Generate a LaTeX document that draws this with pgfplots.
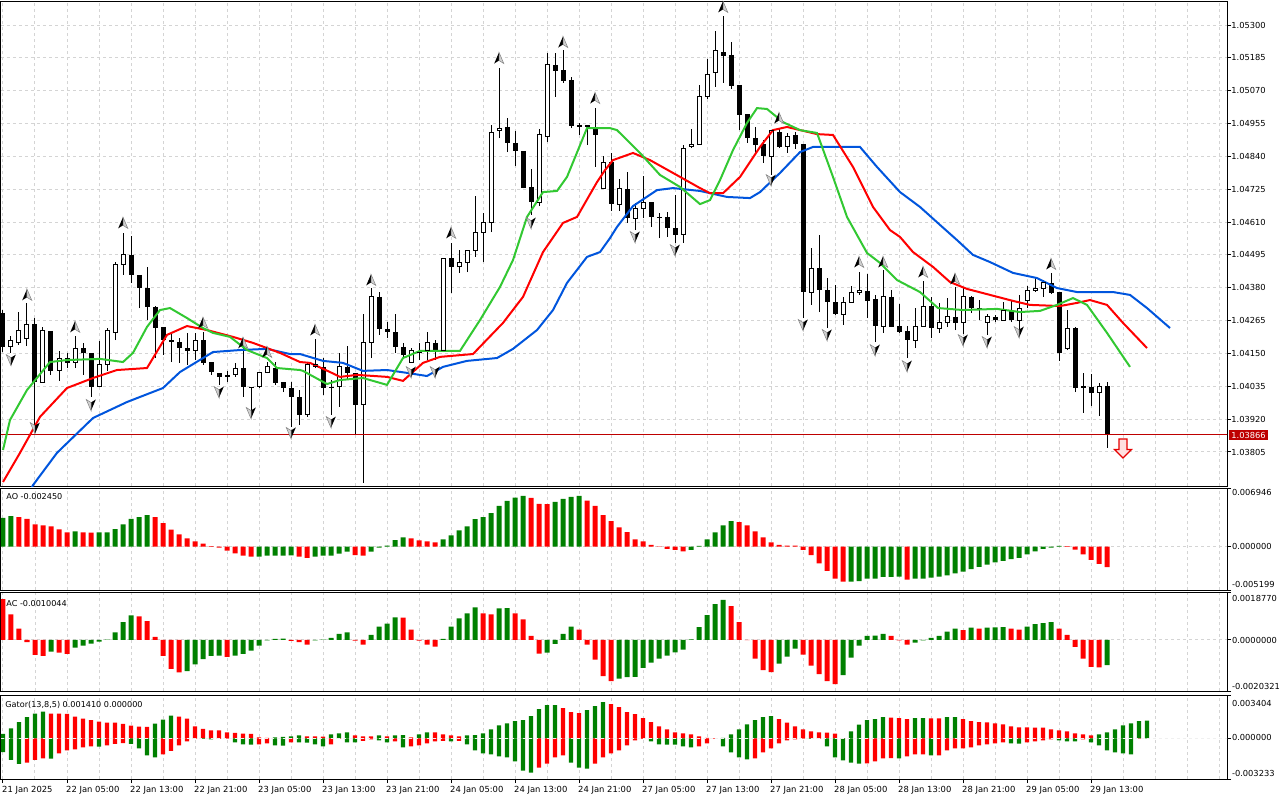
\documentclass[border=0pt]{standalone}
\usepackage{fontspec}
\setmainfont{DejaVu Sans}
\usepackage{pgfplots}
\pgfplotsset{compat=1.18}
\definecolor{gridc}{RGB}{212,212,212}
\definecolor{lipsc}{RGB}{50,200,50}
\definecolor{teethc}{RGB}{255,0,0}
\definecolor{jawc}{RGB}{0,85,221}
\definecolor{upc}{RGB}{0,128,0}
\definecolor{dnc}{RGB}{255,0,0}
\definecolor{bidc}{RGB}{190,0,0}
\newcommand\fR{\fontsize{4.15pt}{5pt}\selectfont}
\newcommand\fL{\fontsize{4.05pt}{5pt}\selectfont}
\newcommand\fT{\fontsize{4.2pt}{5pt}\selectfont}
\pgfdeclareplotmark{fup}{%
  \pgfpathmoveto{\pgfqpoint{0pt}{2.9pt}}%
  \pgfpathlineto{\pgfqpoint{-2.4pt}{-2.7pt}}%
  \pgfpathlineto{\pgfqpoint{0pt}{-1.2pt}}%
  \pgfpathclose
  \pgfsetfillcolor{black}\pgfusepathqfill
  \pgfpathmoveto{\pgfqpoint{0pt}{2.9pt}}%
  \pgfpathlineto{\pgfqpoint{2.4pt}{-2.7pt}}%
  \pgfpathlineto{\pgfqpoint{0pt}{-1.2pt}}%
  \pgfpathclose
  \pgfsetfillcolor{black!18}\pgfsetstrokecolor{black!50}\pgfsetlinewidth{0.25pt}\pgfusepathqfillstroke
}
\pgfdeclareplotmark{fdown}{%
  \pgfpathmoveto{\pgfqpoint{0pt}{-2.9pt}}%
  \pgfpathlineto{\pgfqpoint{2.4pt}{2.7pt}}%
  \pgfpathlineto{\pgfqpoint{0pt}{1.2pt}}%
  \pgfpathclose
  \pgfsetfillcolor{black}\pgfusepathqfill
  \pgfpathmoveto{\pgfqpoint{0pt}{-2.9pt}}%
  \pgfpathlineto{\pgfqpoint{-2.4pt}{2.7pt}}%
  \pgfpathlineto{\pgfqpoint{0pt}{1.2pt}}%
  \pgfpathclose
  \pgfsetfillcolor{black!18}\pgfsetstrokecolor{black!50}\pgfsetlinewidth{0.25pt}\pgfusepathqfillstroke
}
\pgfdeclareplotmark{sellarrow}{%
  \pgfpathmoveto{\pgfqpoint{-2pt}{4.5pt}}%
  \pgfpathlineto{\pgfqpoint{2pt}{4.5pt}}%
  \pgfpathlineto{\pgfqpoint{2pt}{-0.8pt}}%
  \pgfpathlineto{\pgfqpoint{4.2pt}{-0.8pt}}%
  \pgfpathlineto{\pgfqpoint{0pt}{-5pt}}%
  \pgfpathlineto{\pgfqpoint{-4.2pt}{-0.8pt}}%
  \pgfpathlineto{\pgfqpoint{-2pt}{-0.8pt}}%
  \pgfpathclose
  \pgfsetfillcolor{red!12}\pgfsetstrokecolor{red!90!black}\pgfsetlinewidth{0.6pt}\pgfusepathqfillstroke
}
\pgfplotsset{
  mtaxis/.style={scale only axis, width=613pt, xmin=-0.25, xmax=153,
    axis line style={line width=0.5pt, black},
    grid style={gridc, line width=0.5pt, dash pattern=on 1.5pt off 1.5pt},
    xtick={0,4,...,152}, scaled ticks=false, clip=true,
    tick style={line width=0.5pt, black}, tick align=outside, major tick length=2pt,
    ytick pos=right, yticklabel pos=right},
}
\begin{document}
\begin{tikzpicture}
\useasboundingbox (0,0) rectangle (640pt,-400pt);
% ================= MAIN PRICE PANEL =================
\begin{axis}[mtaxis, at={(0.5pt,-243pt)}, anchor=south west, height=242.5pt,
  ymin=1.036859, ymax=1.053840, xticklabels={}, xtick style={draw=none},
  ytick={1.03805,1.03920,1.04035,1.04150,1.04265,1.04380,1.04495,1.04610,1.04725,1.04840,1.04955,1.05070,1.05185,1.05300},
  yticklabels={1.03805,1.03920,1.04035,1.04150,1.04265,1.04380,1.04495,1.04610,1.04725,1.04840,1.04955,1.05070,1.05185,1.05300},
  yticklabel style={font=\fR, inner sep=0pt, anchor=west},
  grid=major, unbounded coords=jump]
% wicks
\addplot[black, line width=0.5pt] coordinates {
(0,1.04155)(0,1.04302)(0,nan)(1,1.04152)(1,1.04211)(1,nan)(2,1.04180)(2,1.04295)(2,nan)(3,1.04176)(3,1.04327)(3,nan)
(4,1.03900)(4,1.04274)(4,nan)(5,1.04048)(5,1.04243)(5,nan)(6,1.04075)(6,1.04230)(6,nan)(7,1.04054)(7,1.04159)(7,nan)
(8,1.04099)(8,1.04152)(8,nan)(9,1.04099)(9,1.04211)(9,nan)(10,1.04075)(10,1.04187)(10,nan)(11,1.03998)(11,1.04153)(11,nan)
(12,1.04031)(12,1.04194)(12,nan)(13,1.04089)(13,1.04239)(13,nan)(14,1.04197)(14,1.04470)(14,nan)(15,1.04425)(15,1.04572)(15,nan)
(16,1.04397)(16,1.04561)(16,nan)(17,1.04309)(17,1.04426)(17,nan)(18,1.04267)(18,1.04453)(18,nan)(19,1.04134)(19,1.04316)(19,nan)
(20,1.04145)(20,1.04244)(20,nan)(21,1.04120)(21,1.04222)(21,nan)(22,1.04117)(22,1.04204)(22,nan)(23,1.04110)(23,1.04222)(23,nan)
(24,1.04127)(24,1.04222)(24,nan)(25,1.04110)(25,1.04225)(25,nan)(26,1.04075)(26,1.04121)(26,nan)(27,1.04040)(27,1.04083)(27,nan)
(28,1.04050)(28,1.04089)(28,nan)(29,1.04068)(29,1.04117)(29,nan)(30,1.03998)(30,1.04197)(30,nan)(31,1.03935)(31,1.04034)(31,nan)
(32,1.04029)(32,1.04086)(32,nan)(33,1.04081)(33,1.04120)(33,nan)(34,1.04040)(34,1.04120)(34,nan)(35,1.04015)(35,1.04051)(35,nan)
(36,1.03893)(36,1.04050)(36,nan)(37,1.03900)(37,1.04022)(37,nan)(38,1.03928)(38,1.04117)(38,nan)(39,1.04099)(39,1.04201)(39,nan)
(40,1.04005)(40,1.04134)(40,nan)(41,1.03935)(41,1.04057)(41,nan)(42,1.03963)(42,1.04152)(42,nan)(43,1.04057)(43,1.04176)(43,nan)
(44,1.03865)(44,1.04083)(44,nan)(45,1.03697)(45,1.04288)(45,nan)(46,1.04134)(46,1.04379)(46,nan)(47,1.04215)(47,1.04365)(47,nan)
(48,1.04204)(48,1.04260)(48,nan)(49,1.04152)(49,1.04288)(49,nan)(50,1.04134)(50,1.04187)(50,nan)(51,1.04117)(51,1.04169)(51,nan)
(52,1.04127)(52,1.04187)(52,nan)(53,1.04127)(53,1.04225)(53,nan)(54,1.04127)(54,1.04197)(54,nan)(55,1.04155)(55,1.04485)(55,nan)
(56,1.04362)(56,1.04537)(56,nan)(57,1.04432)(57,1.04512)(57,nan)(58,1.04435)(58,1.04513)(58,nan)(59,1.04488)(59,1.04701)(59,nan)
(60,1.04470)(60,1.04642)(60,nan)(61,1.04575)(61,1.04950)(61,nan)(62,1.04904)(62,1.05149)(62,nan)(63,1.04855)(63,1.04974)(63,nan)
(64,1.04806)(64,1.04929)(64,nan)(65,1.04728)(65,1.04860)(65,nan)(66,1.04635)(66,1.04796)(66,nan)(67,1.04666)(67,1.04936)(67,nan)
(68,1.04890)(68,1.05202)(68,nan)(69,1.05048)(69,1.05202)(69,nan)(70,1.05097)(70,1.05212)(70,nan)(71,1.04939)(71,1.05118)(71,nan)
(72,1.04915)(72,1.04957)(72,nan)(73,1.04880)(73,1.04951)(73,nan)(74,1.04803)(74,1.05009)(74,nan)(75,1.04728)(75,1.04841)(75,nan)
(76,1.04649)(76,1.04852)(76,nan)(77,1.04649)(77,1.04761)(77,nan)(78,1.04607)(78,1.04785)(78,nan)(79,1.04582)(79,1.04677)(79,nan)
(80,1.04624)(80,1.04771)(80,nan)(81,1.04593)(81,1.04681)(81,nan)(82,1.04554)(82,1.04642)(82,nan)(83,1.04558)(83,1.04645)(83,nan)
(84,1.04537)(84,1.04705)(84,nan)(85,1.04537)(85,1.04880)(85,nan)(86,1.04869)(86,1.04936)(86,nan)(87,1.04880)(87,1.05090)(87,nan)
(88,1.05041)(88,1.05181)(88,nan)(89,1.05083)(89,1.05279)(89,nan)(90,1.05097)(90,1.05331)(90,nan)(91,1.05076)(91,1.05240)(91,nan)
(92,1.04932)(92,1.05091)(92,nan)(93,1.04887)(93,1.04989)(93,nan)(94,1.04852)(94,1.04943)(94,nan)(95,1.04817)(95,1.04897)(95,nan)
(96,1.04775)(96,1.04932)(96,nan)(97,1.04869)(97,1.04939)(97,nan)(98,1.04852)(98,1.04922)(98,nan)(99,1.04866)(99,1.04925)(99,nan)
(100,1.04274)(100,1.04884)(100,nan)(101,1.04320)(101,1.04519)(101,nan)(102,1.04295)(102,1.04565)(102,nan)(103,1.04239)(103,1.04414)(103,nan)
(104,1.04285)(104,1.04390)(104,nan)(105,1.04250)(105,1.04348)(105,nan)(106,1.04327)(106,1.04386)(106,nan)(107,1.04355)(107,1.04435)(107,nan)
(108,1.04274)(108,1.04428)(108,nan)(109,1.04190)(109,1.04355)(109,nan)(110,1.04222)(110,1.04442)(110,nan)(111,1.04242)(111,1.04372)(111,nan)
(112,1.04222)(112,1.04323)(112,nan)(113,1.04134)(113,1.04246)(113,nan)(114,1.04169)(114,1.04309)(114,nan)(115,1.04243)(115,1.04404)(115,nan)
(116,1.04204)(116,1.04348)(116,nan)(117,1.04222)(117,1.04327)(117,nan)(118,1.04243)(118,1.04344)(118,nan)(119,1.04232)(119,1.04383)(119,nan)
(120,1.04218)(120,1.04379)(120,nan)(121,1.04292)(121,1.04351)(121,nan)(122,1.04267)(122,1.04337)(122,nan)(123,1.04215)(123,1.04288)(123,nan)
(124,1.04260)(124,1.04285)(124,nan)(125,1.04264)(125,1.04330)(125,nan)(126,1.04260)(126,1.04334)(126,nan)(127,1.04215)(127,1.04355)(127,nan)
(128,1.04309)(128,1.04386)(128,nan)(129,1.04365)(129,1.04418)(129,nan)(130,1.04348)(130,1.04407)(130,nan)(131,1.04358)(131,1.04432)(131,nan)
(132,1.04124)(132,1.04366)(132,nan)(133,1.04162)(133,1.04302)(133,nan)(134,1.04015)(134,1.04243)(134,nan)(135,1.03942)(135,1.04082)(135,nan)
(136,1.03966)(136,1.04078)(136,nan)(137,1.03931)(137,1.04047)(137,nan)(138,1.03819)(138,1.04050)(138,nan)
};
% bearish bodies (filled black)
\addplot[black, line width=2.5pt] coordinates {
(0,1.04292)(0,1.04173)(0,nan)(4,1.04253)(4,1.04050)(4,nan)(6,1.04229)(6,1.04089)(6,nan)(8,1.04134)(8,1.04117)(8,nan)
(10,1.04169)(10,1.04152)(10,nan)(11,1.04152)(11,1.04033)(11,nan)(16,1.04495)(16,1.04425)(16,nan)(17,1.04425)(17,1.04379)(17,nan)
(18,1.04379)(18,1.04313)(18,nan)(19,1.04313)(19,1.04239)(19,nan)(20,1.04243)(20,1.04197)(20,nan)(21,1.04197)(21,1.04190)(21,nan)
(22,1.04190)(22,1.04169)(22,nan)(23,1.04169)(23,1.04159)(23,nan)(25,1.04197)(25,1.04117)(25,nan)(26,1.04120)(26,1.04085)(26,nan)
(27,1.04082)(27,1.04068)(27,nan)(28,1.04075)(28,1.04068)(28,nan)(30,1.04099)(30,1.04033)(30,nan)(31,1.04033)(31,1.04029)(31,nan)
(34,1.04099)(34,1.04047)(34,nan)(35,1.04050)(35,1.04029)(35,nan)(36,1.04029)(36,1.03998)(36,nan)(37,1.03998)(37,1.03935)(37,nan)
(40,1.04103)(40,1.04029)(40,nan)(41,1.04033)(41,1.04029)(41,nan)(43,1.04103)(43,1.04082)(43,nan)(44,1.04082)(44,1.03970)(44,nan)
(47,1.04348)(47,1.04236)(47,nan)(48,1.04236)(48,1.04225)(48,nan)(49,1.04225)(49,1.04173)(49,nan)(50,1.04173)(50,1.04145)(50,nan)
(54,1.04187)(54,1.04159)(54,nan)(56,1.04484)(56,1.04453)(56,nan)(63,1.04943)(63,1.04887)(63,nan)(64,1.04887)(64,1.04859)(64,nan)
(65,1.04859)(65,1.04729)(65,nan)(66,1.04733)(66,1.04680)(66,nan)(69,1.05160)(69,1.05139)(69,nan)(70,1.05142)(70,1.05104)(70,nan)
(71,1.05107)(71,1.04946)(71,nan)(72,1.04950)(72,1.04943)(72,nan)(73,1.04950)(73,1.04943)(73,nan)(74,1.04943)(74,1.04915)(74,nan)
(76,1.04820)(76,1.04673)(76,nan)(78,1.04726)(78,1.04624)(78,nan)(81,1.04680)(81,1.04628)(81,nan)(82,1.04628)(82,1.04624)(82,nan)
(83,1.04628)(83,1.04589)(83,nan)(84,1.04589)(84,1.04565)(84,nan)(90,1.05205)(90,1.05191)(90,nan)(91,1.05195)(91,1.05086)(91,nan)
(92,1.05090)(92,1.04985)(92,nan)(93,1.04988)(93,1.04904)(93,nan)(94,1.04904)(94,1.04880)(94,nan)(95,1.04883)(95,1.04841)(95,nan)
(97,1.04925)(97,1.04873)(97,nan)(99,1.04915)(99,1.04883)(99,nan)(100,1.04883)(100,1.04365)(100,nan)(102,1.04449)(102,1.04372)(102,nan)
(103,1.04372)(103,1.04330)(103,nan)(104,1.04330)(104,1.04288)(104,nan)(108,1.04369)(108,1.04334)(108,nan)(109,1.04341)(109,1.04246)(109,nan)
(111,1.04348)(111,1.04243)(111,nan)(112,1.04246)(112,1.04225)(112,nan)(113,1.04229)(113,1.04197)(113,nan)(116,1.04316)(116,1.04239)(116,nan)
(119,1.04278)(119,1.04257)(119,nan)(121,1.04348)(121,1.04309)(121,nan)(122,1.04309)(122,1.04302)(122,nan)(124,1.04278)(124,1.04267)(124,nan)
(126,1.04299)(126,1.04267)(126,nan)(131,1.04397)(131,1.04362)(131,nan)(132,1.04365)(132,1.04152)(132,nan)(134,1.04239)(134,1.04029)(134,nan)
(135,1.04036)(135,1.04029)(135,nan)(136,1.04033)(136,1.04012)(136,nan)(138,1.04036)(138,1.03866)(138,nan)
};
% bullish bodies: black outline
\addplot[black, line width=2.5pt] coordinates {
(1,1.04173)(1,1.04197)(1,nan)(2,1.04190)(2,1.04229)(2,nan)(3,1.04204)(3,1.04253)(3,nan)(5,1.04050)(5,1.04229)(5,nan)
(7,1.04089)(7,1.04134)(7,nan)(9,1.04117)(9,1.04169)(9,nan)(12,1.04033)(12,1.04110)(12,nan)(13,1.04113)(13,1.04229)(13,nan)
(14,1.04225)(14,1.04463)(14,nan)(15,1.04463)(15,1.04495)(15,nan)(24,1.04159)(24,1.04197)(24,nan)(29,1.04075)(29,1.04099)(29,nan)
(32,1.04033)(32,1.04085)(32,nan)(33,1.04082)(33,1.04106)(33,nan)(38,1.03935)(38,1.04110)(38,nan)(39,1.04106)(39,1.04113)(39,nan)
(42,1.04033)(42,1.04103)(42,nan)(45,1.03970)(45,1.04187)(45,nan)(46,1.04190)(46,1.04348)(46,nan)(51,1.04120)(51,1.04159)(51,nan)
(52,1.04152)(52,1.04155)(52,nan)(53,1.04159)(53,1.04187)(53,nan)(55,1.04159)(55,1.04484)(55,nan)(57,1.04453)(57,1.04470)(57,nan)
(58,1.04470)(58,1.04512)(58,nan)(59,1.04512)(59,1.04572)(59,nan)(60,1.04572)(60,1.04607)(60,nan)(61,1.04607)(61,1.04925)(61,nan)
(62,1.04929)(62,1.04939)(62,nan)(67,1.04680)(67,1.04915)(67,nan)(68,1.04911)(68,1.05160)(68,nan)(75,1.04729)(75,1.04820)(75,nan)
(77,1.04673)(77,1.04726)(77,nan)(79,1.04624)(79,1.04656)(79,nan)(80,1.04656)(80,1.04680)(80,nan)(85,1.04565)(85,1.04869)(85,nan)
(86,1.04873)(86,1.04883)(86,nan)(87,1.04883)(87,1.05048)(87,nan)(88,1.05048)(88,1.05128)(88,nan)(89,1.05132)(89,1.05209)(89,nan)
(96,1.04841)(96,1.04929)(96,nan)(98,1.04873)(98,1.04911)(98,nan)(101,1.04365)(101,1.04449)(101,nan)(105,1.04288)(105,1.04330)(105,nan)
(106,1.04330)(106,1.04362)(106,nan)(107,1.04362)(107,1.04369)(107,nan)(110,1.04246)(110,1.04348)(110,nan)(114,1.04197)(114,1.04246)(114,nan)
(115,1.04246)(115,1.04316)(115,nan)(117,1.04239)(117,1.04257)(117,nan)(118,1.04257)(118,1.04278)(118,nan)(120,1.04257)(120,1.04348)(120,nan)
(123,1.04257)(123,1.04281)(123,nan)(125,1.04267)(125,1.04299)(125,nan)(127,1.04264)(127,1.04309)(127,nan)(128,1.04334)(128,1.04369)(128,nan)
(129,1.04369)(129,1.04379)(129,nan)(130,1.04379)(130,1.04397)(130,nan)(133,1.04166)(133,1.04239)(133,nan)(137,1.04012)(137,1.04036)(137,nan)
};
% bullish bodies: white fill with black top/bottom edges
\addplot[white, line width=1.5pt, mark=-, mark size=1.25pt, mark options={black, line width=0.5pt, solid}] coordinates {
(1,1.04173)(1,1.04197)(1,nan)(2,1.04190)(2,1.04229)(2,nan)(3,1.04204)(3,1.04253)(3,nan)(5,1.04050)(5,1.04229)(5,nan)
(7,1.04089)(7,1.04134)(7,nan)(9,1.04117)(9,1.04169)(9,nan)(12,1.04033)(12,1.04110)(12,nan)(13,1.04113)(13,1.04229)(13,nan)
(14,1.04225)(14,1.04463)(14,nan)(15,1.04463)(15,1.04495)(15,nan)(24,1.04159)(24,1.04197)(24,nan)(29,1.04075)(29,1.04099)(29,nan)
(32,1.04033)(32,1.04085)(32,nan)(33,1.04082)(33,1.04106)(33,nan)(38,1.03935)(38,1.04110)(38,nan)(39,1.04106)(39,1.04113)(39,nan)
(42,1.04033)(42,1.04103)(42,nan)(45,1.03970)(45,1.04187)(45,nan)(46,1.04190)(46,1.04348)(46,nan)(51,1.04120)(51,1.04159)(51,nan)
(52,1.04152)(52,1.04155)(52,nan)(53,1.04159)(53,1.04187)(53,nan)(55,1.04159)(55,1.04484)(55,nan)(57,1.04453)(57,1.04470)(57,nan)
(58,1.04470)(58,1.04512)(58,nan)(59,1.04512)(59,1.04572)(59,nan)(60,1.04572)(60,1.04607)(60,nan)(61,1.04607)(61,1.04925)(61,nan)
(62,1.04929)(62,1.04939)(62,nan)(67,1.04680)(67,1.04915)(67,nan)(68,1.04911)(68,1.05160)(68,nan)(75,1.04729)(75,1.04820)(75,nan)
(77,1.04673)(77,1.04726)(77,nan)(79,1.04624)(79,1.04656)(79,nan)(80,1.04656)(80,1.04680)(80,nan)(85,1.04565)(85,1.04869)(85,nan)
(86,1.04873)(86,1.04883)(86,nan)(87,1.04883)(87,1.05048)(87,nan)(88,1.05048)(88,1.05128)(88,nan)(89,1.05132)(89,1.05209)(89,nan)
(96,1.04841)(96,1.04929)(96,nan)(98,1.04873)(98,1.04911)(98,nan)(101,1.04365)(101,1.04449)(101,nan)(105,1.04288)(105,1.04330)(105,nan)
(106,1.04330)(106,1.04362)(106,nan)(107,1.04362)(107,1.04369)(107,nan)(110,1.04246)(110,1.04348)(110,nan)(114,1.04197)(114,1.04246)(114,nan)
(115,1.04246)(115,1.04316)(115,nan)(117,1.04239)(117,1.04257)(117,nan)(118,1.04257)(118,1.04278)(118,nan)(120,1.04257)(120,1.04348)(120,nan)
(123,1.04257)(123,1.04281)(123,nan)(125,1.04267)(125,1.04299)(125,nan)(127,1.04264)(127,1.04309)(127,nan)(128,1.04334)(128,1.04369)(128,nan)
(129,1.04369)(129,1.04379)(129,nan)(130,1.04379)(130,1.04397)(130,nan)(133,1.04166)(133,1.04239)(133,nan)(137,1.04012)(137,1.04036)(137,nan)
};
% bid line
\addplot[bidc, line width=0.5pt] coordinates {(-1,1.03866)(154,1.03866)};
% Alligator jaw (blue)
\addplot[jawc, line width=1pt] coordinates {
(2.125,1.03602)(3.75,1.03689)(6.75,1.03802)(11.25,1.03924)(15.5,1.03980)(20,1.04029)(22.125,1.04085)(26.25,1.04155)(29.625,1.04162)(33,1.04166)(35.875,1.04148)(37.125,1.04148)(40,1.04124)(42.5,1.04117)(45,1.04089)(48,1.04092)(50.5,1.04082)(53,1.04071)(55,1.04103)(58,1.04124)(61.75,1.04134)(63.75,1.04166)(66.75,1.04232)(68.75,1.04302)(70.5,1.04397)(73,1.04488)(74.625,1.04505)(75.875,1.04554)(76.75,1.04593)(78.75,1.04666)(81.75,1.04722)(83.75,1.04729)(87.125,1.04719)(90.5,1.04698)(93.375,1.04694)(94.625,1.04715)(97.125,1.04782)(99.625,1.04855)(101.25,1.04873)(107.125,1.04873)(109.25,1.04803)(112.125,1.04715)(114.625,1.04663)(117.125,1.04600)(119.25,1.04547)(121.25,1.04495)(123.375,1.04470)(126.25,1.04432)(129.25,1.04414)(131.75,1.04379)(134.25,1.04365)(138.75,1.04365)(140.875,1.04355)(143,1.04309)(145.875,1.04239)
};
% Alligator teeth (red)
\addplot[teethc, line width=1pt] coordinates {
(0,1.03700)(2.125,1.03802)(4.625,1.03928)(8,1.04029)(11.25,1.04064)(14.25,1.04092)(18,1.04099)(20.5,1.04215)(23,1.04246)(25.5,1.04232)(28.75,1.04208)(31.25,1.04187)(34.625,1.04152)(37.125,1.04120)(38.375,1.04117)(40.875,1.04085)(42.125,1.04068)(44.25,1.04075)(48,1.04068)(50,1.04054)(52.5,1.04117)(54.625,1.04138)(58.75,1.04148)(62.5,1.04257)(65,1.04348)(67.5,1.04505)(70,1.04607)(71.75,1.04628)(74.25,1.04750)(75.25,1.04792)(76.25,1.04827)(78.75,1.04852)(80.875,1.04827)(83.75,1.04782)(87.125,1.04729)(88.375,1.04711)(90,1.04711)(92.125,1.04768)(94.625,1.04873)(96.25,1.04932)(98,1.04943)(101.75,1.04918)(103.75,1.04915)(106.25,1.04803)(108.75,1.04663)(110.875,1.04582)(112.125,1.04558)(113.75,1.04505)(116.25,1.04453)(118.375,1.04400)(120.5,1.04376)(123.375,1.04355)(126.25,1.04334)(128.375,1.04320)(132.125,1.04316)(134.25,1.04327)(135.875,1.04337)(138,1.04320)(140,1.04257)(143,1.04169)
};
% Alligator lips (green)
\addplot[lipsc, line width=1pt] coordinates {
(0,1.03812)(0.875,1.03917)(3,1.04022)(5.875,1.04120)(8,1.04127)(12.125,1.04131)(15,1.04120)(16.25,1.04152)(18,1.04243)(19.625,1.04302)(20.875,1.04309)(23,1.04274)(25,1.04239)(26.25,1.04222)(28.375,1.04208)(30.5,1.04162)(33,1.04134)(34.25,1.04099)(37.125,1.04092)(37.5,1.04089)(40.5,1.04043)(42.125,1.04057)(45,1.04064)(48,1.04040)(50,1.04134)(52.125,1.04159)(57.125,1.04159)(59.625,1.04267)(62.125,1.04383)(63.75,1.04477)(65.5,1.04628)(67.5,1.04715)(69.25,1.04719)(70.5,1.04768)(73,1.04939)(75.875,1.04939)(76.75,1.04932)(79.625,1.04852)(82.125,1.04775)(84.625,1.04733)(87.125,1.04673)(88.375,1.04687)(89.625,1.04757)(91.25,1.04862)(93,1.04957)(94.25,1.05009)(95.5,1.05006)(97.5,1.04960)(99.625,1.04932)(101.75,1.04922)(103.75,1.04768)(105.5,1.04628)(108,1.04502)(109.625,1.04467)(111.75,1.04407)(114.625,1.04365)(116.875,1.04309)(120,1.04302)(124.25,1.04306)(127.125,1.04295)(129.625,1.04299)(131.75,1.04320)(133.75,1.04344)(135.5,1.04320)(138,1.04222)(140.875,1.04103)
};
% fractals
\addplot[only marks, mark=fup] coordinates {
(3,1.04355)(9,1.04243)(15,1.04607)(25,1.04257)(30,1.04187)(33,1.04155)(39,1.04232)(46,1.04407)(56,1.04572)(62,1.05184)(70,1.05240)(74,1.05044)(90,1.05363)(97,1.04974)(107,1.04470)(110,1.04470)(115,1.04435)(119,1.04411)(131,1.04463)
};
\addplot[only marks, mark=fdown] coordinates {
(1,1.04127)(4,1.03889)(11,1.03970)(27,1.04015)(31,1.03942)(36,1.03872)(41,1.03910)(45,1.03682)(51,1.04085)(54,1.04085)(66,1.04607)(79,1.04558)(84,1.04512)(96,1.04757)(100,1.04250)(103,1.04215)(109,1.04162)(113,1.04106)(120,1.04197)(123,1.04190)(127,1.04225)
};
\addplot[only marks, mark=sellarrow] coordinates {(140,1.03819)};
\end{axis}
% ================= AO =================
\begin{axis}[mtaxis, at={(0.5pt,-295pt)}, anchor=south west, height=50.75pt,
  ymin=-0.005199, ymax=0.006946, xticklabels={}, xtick style={draw=none},
  ytick={-0.005199,0,0.006946}, yticklabels={}, grid=major]
\addplot[ybar, bar width=0.625, bar shift=0pt, fill=upc, draw=none] coordinates {
(0,0.00344)(1,0.00364)(9,0.00182)(12,0.00170)(13,0.00171)(14,0.00210)(15,0.00267)(16,0.00332)(17,0.00352)(18,0.00376)(32,-0.00120)(33,-0.00109)(34,-0.00108)(35,-0.00107)(36,-0.00106)(39,-0.00121)(40,-0.00109)(41,-0.00108)(42,-0.00085)(43,-0.00061)(46,-0.00061)(47,-0.00012)(48,0.00012)(49,0.00077)(50,0.00109)(55,0.00085)(56,0.00134)(57,0.00194)(58,0.00243)(59,0.00328)(60,0.00352)(61,0.00401)(62,0.00486)(63,0.00546)(64,0.00587)(65,0.00607)(69,0.00534)(70,0.00571)(71,0.00595)(72,0.00608)(86,-0.00040)(87,0.00008)(88,0.00085)(89,0.00170)(90,0.00255)(91,0.00304)(106,-0.00420)(107,-0.00413)(108,-0.00385)(109,-0.00384)(110,-0.00364)(111,-0.00363)(112,-0.00360)(114,-0.00385)(115,-0.00384)(116,-0.00372)(117,-0.00360)(118,-0.00344)(119,-0.00320)(120,-0.00300)(121,-0.00271)(122,-0.00243)(123,-0.00215)(124,-0.00190)(125,-0.00170)(126,-0.00150)(127,-0.00134)(128,-0.00093)(129,-0.00057)(130,-0.00028)(131,-0.00012)(132,0.00008)
};
\addplot[ybar, bar width=0.625, bar shift=0pt, fill=dnc, draw=none] coordinates {
(2,0.00352)(3,0.00332)(4,0.00267)(5,0.00255)(6,0.00243)(7,0.00206)(8,0.00170)(10,0.00170)(11,0.00168)(19,0.00352)(20,0.00279)(21,0.00202)(22,0.00146)(23,0.00097)(24,0.00061)(25,0.00036)(26,0.00004)(27,-0.00012)(28,-0.00049)(29,-0.00081)(30,-0.00109)(31,-0.00121)(37,-0.00121)(38,-0.00134)(44,-0.00101)(45,-0.00109)(51,0.00097)(52,0.00073)(53,0.00061)(54,0.00049)(66,0.00583)(67,0.00510)(68,0.00509)(73,0.00551)(74,0.00486)(75,0.00376)(76,0.00304)(77,0.00231)(78,0.00174)(79,0.00085)(80,0.00061)(81,0.00020)(82,0.00002)(83,-0.00028)(84,-0.00040)(85,-0.00057)(92,0.00291)(93,0.00255)(94,0.00182)(95,0.00109)(96,0.00049)(97,0.00020)(98,0.00012)(99,0.00010)(100,-0.00040)(101,-0.00101)(102,-0.00202)(103,-0.00291)(104,-0.00385)(105,-0.00421)(113,-0.00397)(133,0.00005)(134,-0.00036)(135,-0.00093)(136,-0.00158)(137,-0.00206)(138,-0.00245)
};
\end{axis}
% ================= AC =================
\begin{axis}[mtaxis, at={(0.5pt,-345.5pt)}, anchor=south west, height=49.25pt,
  ymin=-0.0020321, ymax=0.001877, xticklabels={}, xtick style={draw=none},
  ytick={-0.0020321,0,0.001877}, yticklabels={}, grid=major]
\addplot[ybar, bar width=0.625, bar shift=0pt, fill=upc, draw=none] coordinates {
(6,-0.00047)(9,-0.00031)(10,-0.00023)(11,-0.00015)(12,-0.00007)(13,0.00001)(14,0.00030)(15,0.00070)(16,0.00097)(23,-0.00124)(24,-0.00097)(25,-0.00077)(26,-0.00064)(27,-0.00063)(29,-0.00063)(30,-0.00056)(31,-0.00043)(32,-0.00023)(33,-0.00002)(34,0.00004)(35,0.00005)(39,-0.00002)(40,0.00001)(41,0.00008)(42,0.00024)(43,0.00030)(46,0.00020)(47,0.00052)(48,0.00064)(49,0.00089)(55,0.00004)(56,0.00052)(57,0.00085)(58,0.00105)(59,0.00129)(62,0.00125)(63,0.00126)(68,-0.00051)(69,-0.00016)(70,0.00024)(71,0.00052)(77,-0.00154)(78,-0.00148)(79,-0.00147)(80,-0.00111)(81,-0.00091)(82,-0.00075)(83,-0.00063)(84,-0.00050)(85,-0.00039)(86,0.00002)(87,0.00050)(88,0.00098)(89,0.00142)(90,0.00158)(97,-0.00095)(98,-0.00067)(99,-0.00035)(105,-0.00140)(106,-0.00071)(107,-0.00023)(108,0.00016)(109,0.00017)(110,0.00024)(114,-0.00011)(115,-0.00002)(116,0.00008)(117,0.00016)(118,0.00032)(119,0.00044)(121,0.00048)(123,0.00048)(124,0.00049)(125,0.00050)(128,0.00052)(129,0.00062)(130,0.00066)(131,0.00070)(138,-0.0010044)
};
\addplot[ybar, bar width=0.625, bar shift=0pt, fill=dnc, draw=none] coordinates {
(0,0.00161)(1,0.00101)(2,0.00044)(3,-0.00009)(4,-0.00060)(5,-0.00064)(7,-0.00051)(8,-0.00056)(17,0.00093)(18,0.00074)(19,0.00012)(20,-0.00064)(21,-0.00115)(22,-0.00129)(28,-0.00068)(36,-0.00004)(37,-0.00009)(38,-0.00019)(44,-0.00003)(45,-0.00019)(50,0.00088)(51,0.00040)(52,-0.00003)(53,-0.00019)(54,-0.00027)(60,0.00105)(61,0.00101)(64,0.00105)(65,0.00081)(66,0.00016)(67,-0.00055)(72,0.00040)(73,-0.00019)(74,-0.00079)(75,-0.00144)(76,-0.00164)(91,0.00134)(92,0.00070)(93,-0.00001)(94,-0.00075)(95,-0.00120)(96,-0.00128)(100,-0.00059)(101,-0.00102)(102,-0.00136)(103,-0.00164)(104,-0.00176)(111,0.00016)(112,-0.00002)(113,-0.00019)(120,0.00038)(122,0.00044)(126,0.00044)(127,0.00040)(132,0.00044)(133,0.00020)(134,-0.00028)(135,-0.00075)(136,-0.00107)(137,-0.00109)
};
\end{axis}
% ================= GATOR =================
\begin{axis}[mtaxis, at={(0.5pt,-389.5pt)}, anchor=south west, height=41.75pt,
  ymin=-0.003233, ymax=0.003404,
  xtick={0,8,...,136}, minor xtick={4,12,20,28,36,44,52,60,68,76,84,92,100,108,116,124,132,140,144,148,152},
  xticklabels={21 Jan 2025,22 Jan 05:00,22 Jan 13:00,22 Jan 21:00,23 Jan 05:00,23 Jan 13:00,23 Jan 21:00,24 Jan 05:00,24 Jan 13:00,24 Jan 21:00,27 Jan 05:00,27 Jan 13:00,27 Jan 21:00,28 Jan 05:00,28 Jan 13:00,28 Jan 21:00,29 Jan 05:00,29 Jan 13:00},
  xtick pos=bottom, grid=both, minor tick length=0pt,
  minor grid style={gridc, line width=0.5pt, dash pattern=on 1.5pt off 1.5pt},
  xticklabel style={font=\fT, anchor=north west, inner sep=0pt, xshift=-0.6pt, yshift=-1.6pt},
  ytick={-0.003233,0,0.003404}, yticklabels={}]
\addplot[ybar, bar width=0.55, bar shift=0pt, fill=upc, draw=none] coordinates {
(0,0.00035)(1,0.00080)(2,0.00128)(3,0.00168)(4,0.00197)(5,0.00213)(19,0.00117)(20,0.00149)(21,0.00181)(34,0.00008)(35,0.00011)(36,0.00016)(37,0.00024)(41,0.00032)(42,0.00040)(43,0.00048)(47,0.00024)(49,0.00024)(50,0.00025)(52,0.00032)(53,0.00048)(58,0.00024)(59,0.00025)(60,0.00040)(61,0.00072)(62,0.00104)(63,0.00120)(64,0.00136)(65,0.00144)(66,0.00176)(67,0.00232)(68,0.00264)(69,0.00265)(73,0.00224)(74,0.00256)(75,0.00288)(90,0.00003)(91,0.00032)(92,0.00072)(93,0.00112)(94,0.00144)(95,0.00168)(96,0.00176)(106,0.00056)(107,0.00109)(108,0.00144)(109,0.00152)(110,0.00168)(114,0.00160)(115,0.00161)(118,0.00168)(119,0.00169)(137,0.00032)(138,0.00048)(139,0.00072)(140,0.00104)(141,0.00120)(142,0.00136)(143,0.00141)
};
\addplot[ybar, bar width=0.55, bar shift=0pt, fill=dnc, draw=none] coordinates {
(6,0.00197)(7,0.00196)(8,0.00195)(9,0.00173)(10,0.00157)(11,0.00144)(12,0.00133)(13,0.00125)(14,0.00124)(15,0.00115)(16,0.00101)(17,0.00093)(18,0.00092)(22,0.00173)(23,0.00157)(24,0.00096)(25,0.00075)(26,0.00064)(27,0.00063)(28,0.00048)(29,0.00043)(30,0.00037)(31,0.00036)(32,0.00008)(33,0.00003)(38,0.00016)(39,0.00015)(40,0.00014)(44,0.00024)(45,0.00016)(46,0.00015)(48,0.00016)(51,0.00008)(54,0.00047)(55,0.00032)(56,0.00024)(57,0.00016)(70,0.00240)(71,0.00208)(72,0.00200)(76,0.00272)(77,0.00248)(78,0.00208)(79,0.00192)(80,0.00160)(81,0.00128)(82,0.00096)(83,0.00072)(84,0.00048)(85,0.00040)(86,0.00032)(87,0.00016)(88,0.00003)(89,0.00002)(97,0.00152)(98,0.00125)(99,0.00096)(100,0.00072)(101,0.00056)(102,0.00048)(103,0.00045)(104,0.00037)(105,0.00002)(111,0.00165)(112,0.00160)(113,0.00152)(116,0.00159)(117,0.00158)(120,0.00152)(121,0.00136)(122,0.00128)(123,0.00127)(124,0.00120)(125,0.00112)(126,0.00096)(127,0.00088)(128,0.00087)(129,0.00086)(130,0.00085)(131,0.00072)(132,0.00064)(133,0.00056)(134,0.00040)(135,0.00032)(136,0.00024)
};
\addplot[ybar, bar width=0.55, bar shift=0pt, fill=upc, draw=none] coordinates {
(0,-0.00109)(1,-0.00171)(2,-0.00203)(6,-0.00161)(12,-0.00065)(16,-0.00043)(17,-0.00080)(18,-0.00136)(19,-0.00152)(25,-0.00005)(26,-0.00008)(29,-0.00032)(30,-0.00048)(31,-0.00049)(34,-0.00056)(35,-0.00057)(37,-0.00033)(38,-0.00034)(39,-0.00048)(40,-0.00064)(43,-0.00032)(44,-0.00033)(47,-0.00016)(48,-0.00032)(50,-0.00072)(56,-0.00024)(58,-0.00048)(59,-0.00096)(60,-0.00120)(61,-0.00128)(62,-0.00144)(63,-0.00152)(64,-0.00184)(65,-0.00256)(66,-0.00272)(71,-0.00192)(72,-0.00232)(73,-0.00240)(81,-0.00024)(82,-0.00048)(83,-0.00049)(84,-0.00050)(85,-0.00064)(86,-0.00072)(90,-0.00064)(91,-0.00112)(92,-0.00152)(93,-0.00168)(101,-0.00004)(103,-0.00064)(104,-0.00152)(105,-0.00176)(106,-0.00192)(107,-0.00200)(112,-0.00160)(116,-0.00136)(126,-0.00040)(127,-0.00041)(132,-0.00016)(133,-0.00024)(134,-0.00025)(136,-0.00032)(137,-0.00056)(138,-0.00096)(139,-0.00112)(140,-0.00120)(141,-0.00128)
};
\addplot[ybar, bar width=0.55, bar shift=0pt, fill=dnc, draw=none] coordinates {
(3,-0.00192)(4,-0.00171)(5,-0.00160)(7,-0.00120)(8,-0.00096)(9,-0.00088)(10,-0.00072)(11,-0.00064)(13,-0.00056)(14,-0.00043)(15,-0.00037)(20,-0.00128)(21,-0.00099)(22,-0.00056)(23,-0.00024)(24,-0.00003)(27,-0.00005)(28,-0.00003)(32,-0.00048)(33,-0.00040)(36,-0.00032)(41,-0.00048)(42,-0.00003)(45,-0.00021)(46,-0.00008)(49,-0.00024)(51,-0.00064)(52,-0.00056)(53,-0.00040)(54,-0.00024)(55,-0.00020)(57,-0.00021)(67,-0.00232)(68,-0.00200)(69,-0.00152)(70,-0.00136)(74,-0.00200)(75,-0.00152)(76,-0.00120)(77,-0.00096)(78,-0.00056)(79,-0.00016)(80,-0.00005)(87,-0.00064)(88,-0.00040)(89,-0.00003)(94,-0.00160)(95,-0.00112)(96,-0.00080)(97,-0.00040)(98,-0.00016)(99,-0.00008)(100,-0.00003)(102,-0.00002)(108,-0.00199)(109,-0.00184)(110,-0.00160)(111,-0.00157)(113,-0.00144)(114,-0.00128)(115,-0.00127)(117,-0.00135)(118,-0.00096)(119,-0.00080)(120,-0.00079)(121,-0.00072)(122,-0.00056)(123,-0.00048)(124,-0.00040)(125,-0.00032)(128,-0.00032)(129,-0.00024)(130,-0.00016)(131,-0.00008)(135,-0.00008)(142,-0.00003)
};
\addplot[white!88!gray, line width=0.5pt, dash pattern=on 1.5pt off 1.5pt] coordinates {(-1,0)(154,0)};
\end{axis}
% ================= texts =================
\node[anchor=west, inner sep=0pt, font=\fL] at (3pt,-248.5pt) {AO -0.002450};
\node[anchor=west, inner sep=0pt, font=\fL] at (3pt,-302pt) {AC -0.0010044};
\node[anchor=west, inner sep=0pt, font=\fL] at (2.5pt,-352.5pt) {Gator(13,8,5) 0.001410 0.000000};
\node[anchor=west, inner sep=0pt, font=\fR] at (615.8pt,-246pt) {0.006946};
\node[anchor=west, inner sep=0pt, font=\fR] at (615.8pt,-273pt) {0.000000};
\node[anchor=west, inner sep=0pt, font=\fR] at (615.8pt,-292pt) {-0.005199};
\node[anchor=west, inner sep=0pt, font=\fR] at (615.8pt,-299pt) {0.0018770};
\node[anchor=west, inner sep=0pt, font=\fR] at (615.8pt,-320pt) {0.0000000};
\node[anchor=west, inner sep=0pt, font=\fR] at (615.8pt,-343pt) {-0.0020321};
\node[anchor=west, inner sep=0pt, font=\fR] at (615.8pt,-351.5pt) {0.003404};
\node[anchor=west, inner sep=0pt, font=\fR] at (615.8pt,-368.5pt) {0.000000};
\node[anchor=west, inner sep=0pt, font=\fR] at (615.8pt,-386.5pt) {-0.003233};
\node[anchor=west, fill=bidc, text=white, inner xsep=1pt, inner ysep=1.1pt, font=\fR] at (614.5pt,-217.5pt) {1.03866};
\end{tikzpicture}
\end{document}
